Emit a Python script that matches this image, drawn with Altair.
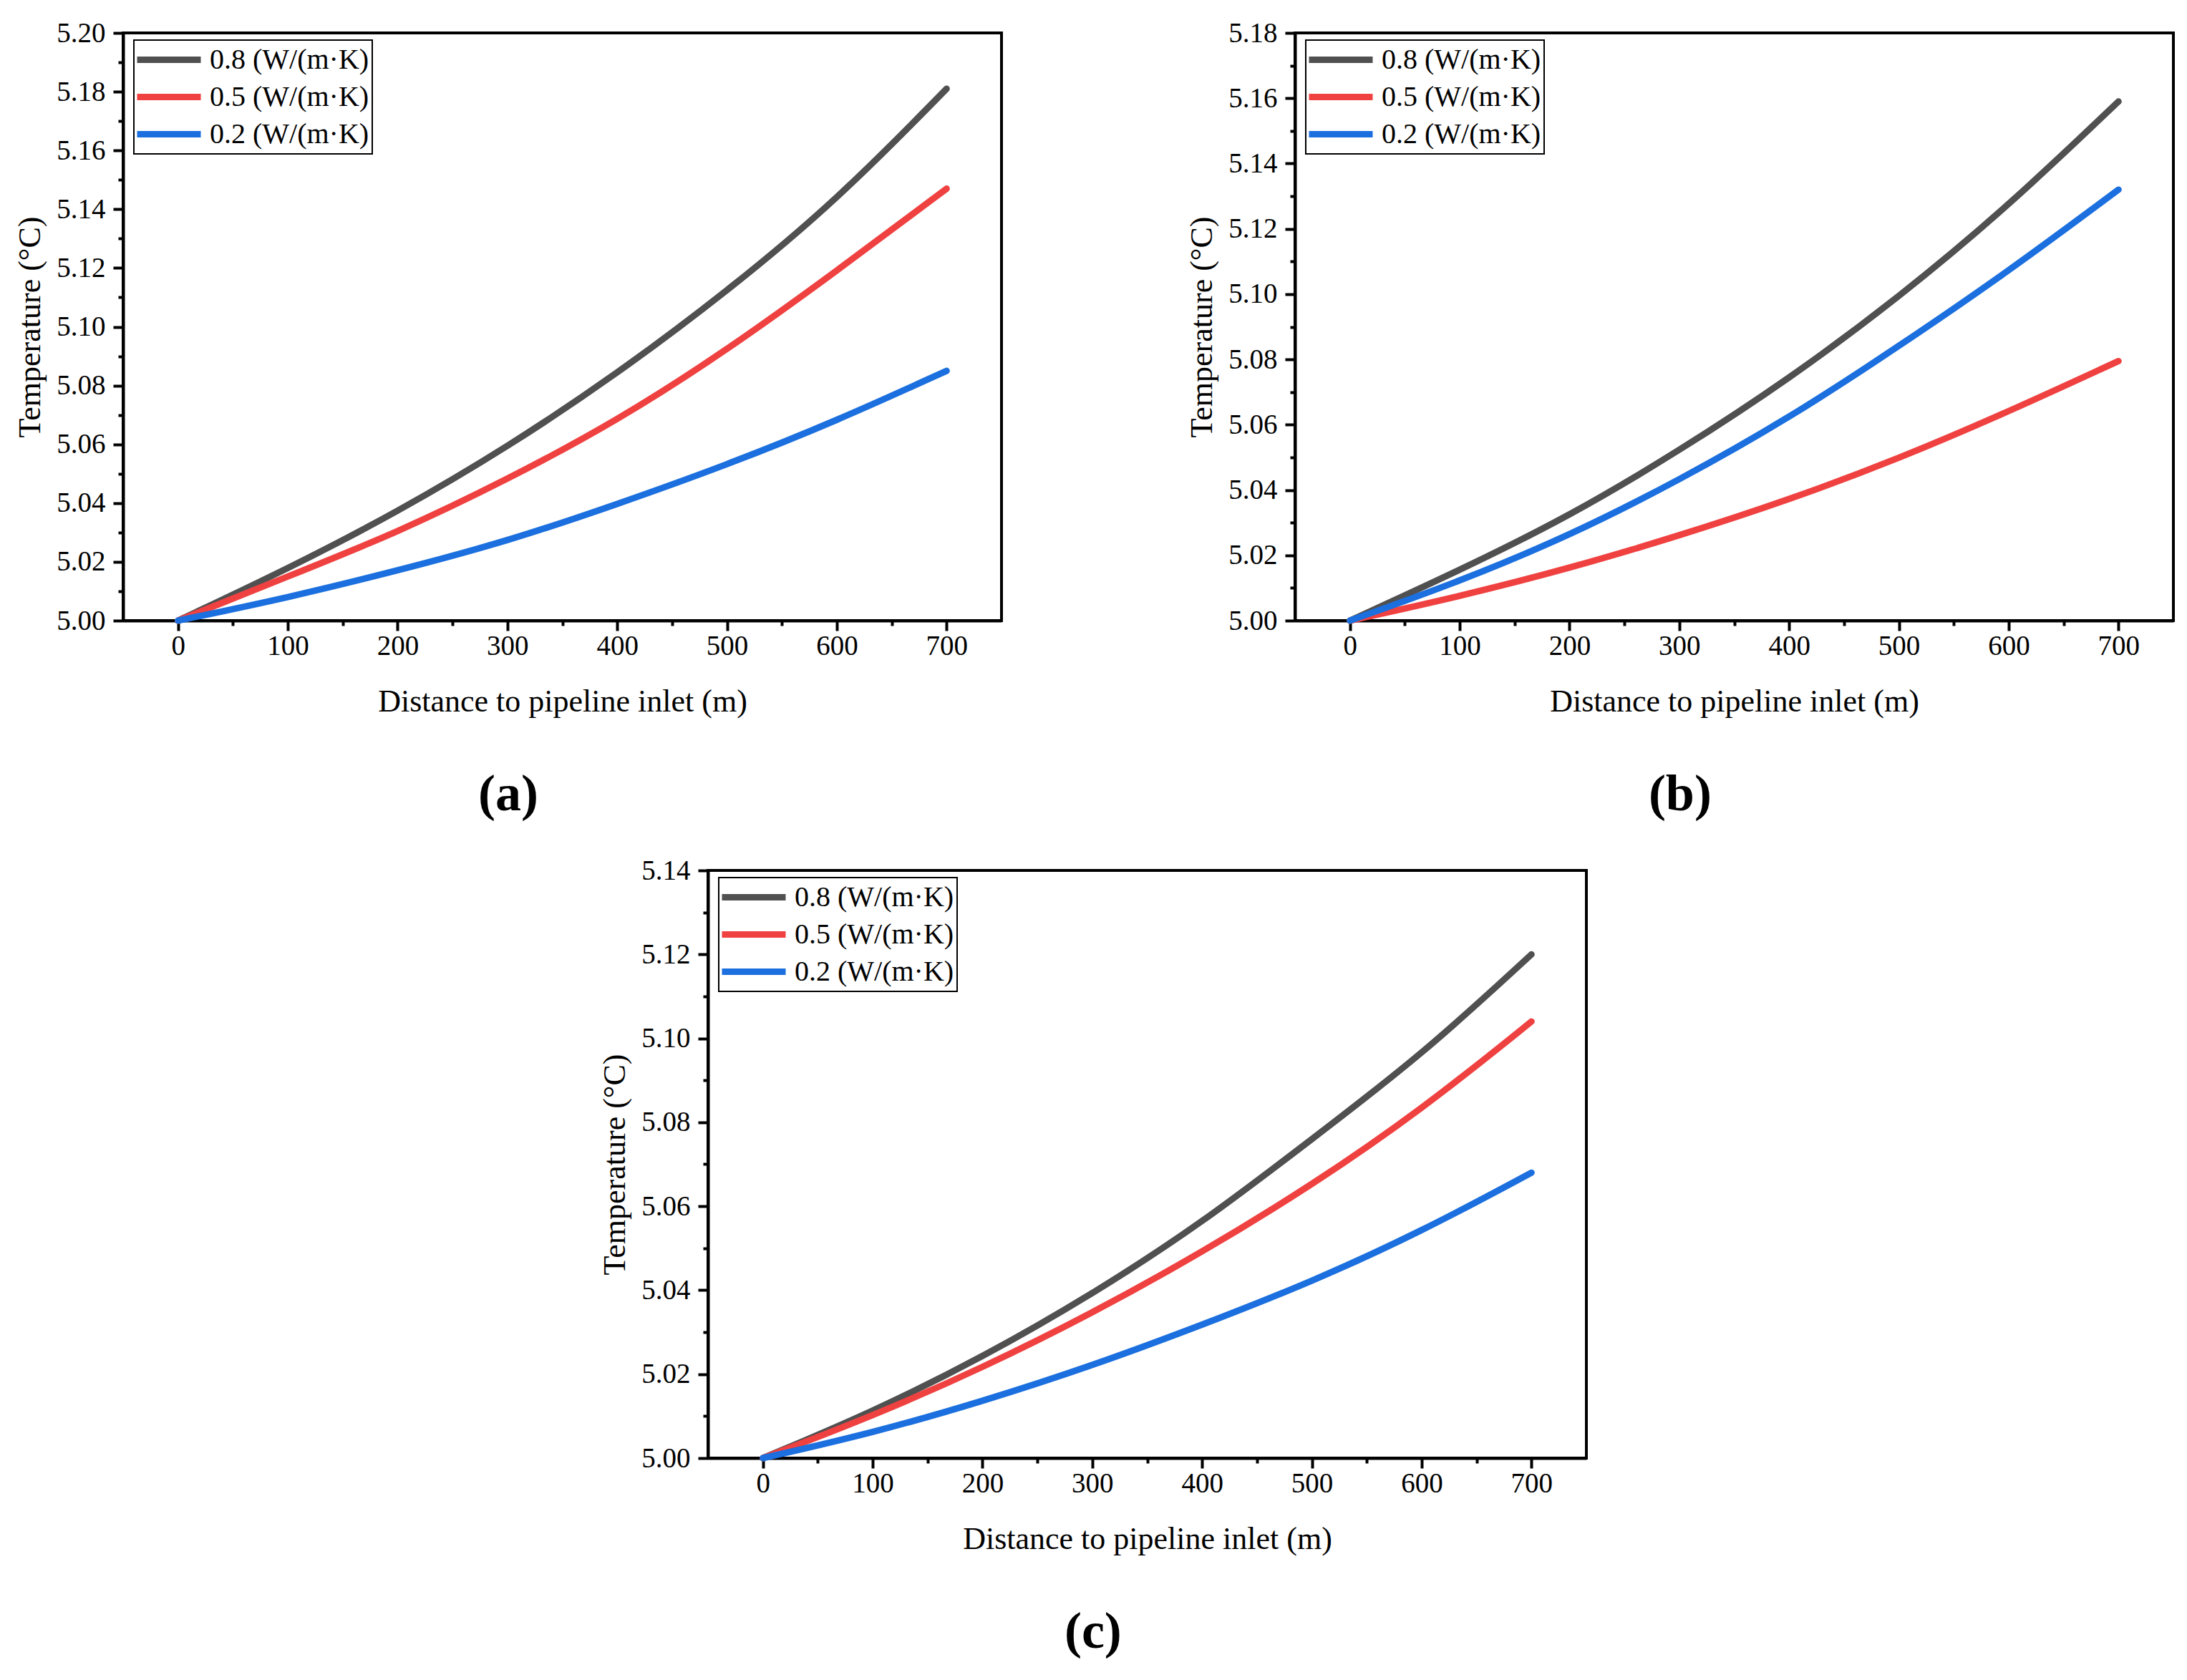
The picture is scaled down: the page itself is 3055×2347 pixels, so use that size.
import altair as alt
import pandas as pd

# distance to pipeline inlet (m), shared by all three panels
distance = [0, 100, 200, 300, 400, 500, 600, 700]

series_labels = ["0.8 (W/(m·K)", "0.5 (W/(m·K)", "0.2 (W/(m·K)"]
series_colors = ["#505050", "#F04141", "#1B6FDE"]

# panel (a)
a_08 = [5.000, 5.0176, 5.037, 5.059, 5.084, 5.112, 5.143, 5.181]
a_05 = [5.000, 5.0150, 5.030, 5.048, 5.068, 5.092, 5.119, 5.147]
a_02 = [5.000, 5.0078, 5.017, 5.027, 5.0396, 5.053, 5.068, 5.085]

# panel (b)
b_08 = [5.000, 5.0154, 5.032, 5.052, 5.074, 5.099, 5.127, 5.159]
b_05 = [5.000, 5.0074, 5.016, 5.026, 5.037, 5.0496, 5.064, 5.0795]
b_02 = [5.000, 5.0120, 5.026, 5.043, 5.062, 5.084, 5.107, 5.132]

# panel (c)
c_08 = [5.000, 5.0110, 5.024, 5.039, 5.056, 5.076, 5.096, 5.120]
c_05 = [5.000, 5.0100, 5.0215, 5.0345, 5.049, 5.065, 5.083, 5.104]
c_02 = [5.000, 5.0060, 5.0135, 5.022, 5.0317, 5.042, 5.054, 5.068]

x_major = [0, 100, 200, 300, 400, 500, 600, 700]
x_minor = [50, 150, 250, 350, 450, 550, 650]

FONT = "Liberation Serif"
PANEL_W = 1227
PANEL_H = 821


def make_df(series_values):
    rows = []
    for label, values in zip(series_labels, series_values):
        for d, t in zip(distance, values):
            rows.append({"distance": d, "temp": t, "series": label})
    return pd.DataFrame(rows)


def panel(series_values, y_max, letter):
    df = make_df(series_values)
    n = int(round((y_max - 5.0) / 0.02))
    y_major = [round(5.0 + 0.02 * i, 2) for i in range(n + 1)]
    y_minor = [round(5.01 + 0.02 * i, 2) for i in range(n)]

    x_scale = alt.Scale(domain=[-50, 750], nice=False)
    y_scale = alt.Scale(domain=[5.0, y_max], nice=False, zero=False)

    lines = (
        alt.Chart(df)
        .mark_line(strokeWidth=9, strokeCap="round", interpolate="basis")
        .encode(
            x=alt.X(
                "distance:Q",
                scale=x_scale,
                axis=alt.Axis(
                    values=x_major,
                    format="d",
                    orient="bottom",
                    title="Distance to pipeline inlet (m)",
                ),
            ),
            y=alt.Y(
                "temp:Q",
                scale=y_scale,
                axis=alt.Axis(
                    values=y_major,
                    format=".2f",
                    orient="left",
                    title="Temperature (°C)",
                ),
            ),
            color=alt.Color(
                "series:N",
                scale=alt.Scale(domain=series_labels, range=series_colors),
                legend=alt.Legend(
                    title=None,
                    orient="none",
                    legendX=15,
                    legendY=10,
                    symbolType="stroke",
                    symbolStrokeWidth=9,
                    symbolSize=7921,
                    symbolOffset=-4,
                    labelOffset=8,
                    labelFont=FONT,
                    labelFontSize=40,
                    labelColor="black",
                    labelLimit=500,
                    strokeColor="black",
                    padding=4,
                    rowPadding=5,
                    clipHeight=47,
                ),
            ),
        )
    )

    minor = (
        alt.Chart(df)
        .mark_line(opacity=0)
        .encode(
            x=alt.X(
                "distance:Q",
                scale=x_scale,
                axis=alt.Axis(
                    values=x_minor,
                    labels=False,
                    domain=False,
                    tickSize=7,
                    orient="bottom",
                    title=None,
                ),
            ),
            y=alt.Y(
                "temp:Q",
                scale=y_scale,
                axis=alt.Axis(
                    values=y_minor,
                    labels=False,
                    domain=False,
                    tickSize=7,
                    orient="left",
                    title=None,
                ),
            ),
            detail="series:N",
        )
    )

    return (
        alt.layer(lines, minor)
        .resolve_scale(x="independent", y="independent")
        .properties(
            width=PANEL_W,
            height=PANEL_H,
            title=alt.TitleParams(
                letter,
                orient="bottom",
                anchor="middle",
                frame="bounds",
                font=FONT,
                fontSize=72,
                fontWeight="bold",
                color="black",
                offset=73,
            ),
        )
    )


chart_a = panel([a_08, a_05, a_02], 5.20, "(a)")
chart_b = panel([b_08, b_05, b_02], 5.18, "(b)")
chart_c = panel([c_08, c_05, c_02], 5.14, "(c)")

# empty block that pushes panel (c) to its place under the gap
spacer = (
    alt.Chart(pd.DataFrame({"v": [0]}))
    .mark_point(opacity=0)
    .encode(x=alt.value(0), y=alt.value(0))
    .properties(width=643, height=10, view=alt.ViewBackground(stroke="transparent"))
)

top_row = (
    alt.hconcat(chart_a, chart_b, spacing=254)
    .resolve_scale(color="independent")
    .resolve_legend(color="independent")
)
bottom_row = (
    alt.hconcat(spacer, chart_c, spacing=18)
    .resolve_scale(color="independent")
    .resolve_legend(color="independent")
)

chart = (
    alt.vconcat(top_row, bottom_row, spacing=47)
    .resolve_scale(color="independent")
    .resolve_legend(color="independent")
    .properties(padding={"left": 10, "top": 17, "right": 0, "bottom": 0})
    .configure_view(stroke="black", strokeWidth=4)
    .configure_axis(
        grid=False,
        domainColor="black",
        domainWidth=4,
        tickColor="black",
        tickWidth=4,
        tickSize=14,
        labelFont=FONT,
        labelFontSize=39,
        labelColor="black",
        labelPadding=11,
        titleFont=FONT,
        titleFontSize=44,
        titleFontWeight="normal",
        titleColor="black",
        titlePadding=14,
    )
    .configure_axisX(labelPadding=2, titlePadding=36)
    .configure_legend(strokeWidth=2)
)

chart.save("out.html", embed_options={"renderer": "svg", "actions": False})
